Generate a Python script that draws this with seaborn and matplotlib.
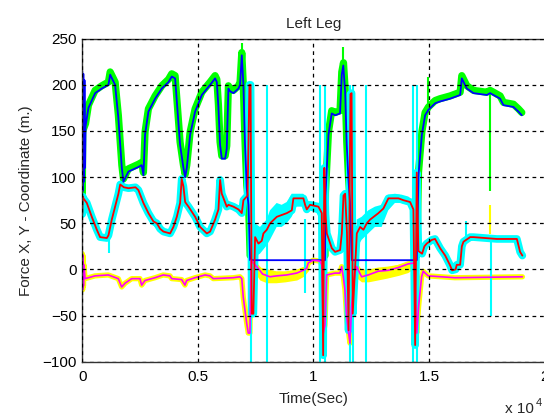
import numpy as np
import matplotlib
matplotlib.use("Agg")
import matplotlib.pyplot as plt
import seaborn as sns

# --- data (time in samples, values in m.) ---
# filtered force (blue)
blue_x = [0, 25, 45, 70, 95, 120, 140, 265, 555, 845, 1130, 1205, 1420, 1560, 1710, 1780,
          1995, 2430, 2570, 2645, 2715, 2860, 3150, 3440, 3730, 3870, 4015, 4090, 4230, 4375,
          4450, 4520, 4665, 4880, 5170, 5530, 5745, 5820, 5890, 5960, 6035, 6180, 6250, 6320,
          6395, 6540, 6755, 6825, 6900, 6970, 7040, 7115, 7190, 7260, 10500, 10520, 10650,
          10790, 10935, 11150, 11225, 11290, 11370, 11440, 11510, 11580, 11660, 14470, 14545,
          14690, 14830, 14975, 15265, 15480, 15913, 16346, 16418, 16635, 16923, 17500, 17644,
          18076, 18219, 18652, 18867, 19014]
blue_y = [215, 85, 212, 95, 205, 110, 155, 175, 191, 196, 200, 211, 200, 164, 110, 95,
          106, 111, 113, 102, 146, 171, 185, 196, 203, 209, 207, 182, 135, 110,
          100, 110, 146, 171, 189, 200, 207, 203, 175, 135, 120, 120, 131, 196,
          193, 191, 196, 200, 232, 200, 135, 88, 70, 10, 10, 80, 146,
          169, 167, 169, 211, 221, 193, 135, 99, 73, 10, 10, 102,
          146, 167, 173, 180, 182, 185, 189, 207, 196, 191, 189, 191,
          185, 178, 176, 171, 167]

# raw force (green), gaps where the sensor is off
green_x = [0, 20, 140, 265, 555, 845, 1130, 1205, 1420, 1560, 1710, 1780, 1995, 2430, 2570,
           2645, 2715, 2860, 3150, 3440, 3730, 3870, 4015, 4090, 4230, 4375, 4450, 4520, 4665,
           4880, 5170, 5530, 5745, 5820, 5890, 5960, 6035, 6180, 6250, 6320, 6395, 6540, 6755,
           6825, 6900, 6960, 7040, 7115, 7190, 7260, 7261, 10499, 10500, 10520, 10650,
           10790, 10935, 11150, 11225, 11300, 11370, 11440, 11510, 11580, 11650, 11651, 14469,
           14470, 14545, 14690, 14830, 14975, 15265, 15480, 15913, 16346, 16418, 16635,
           16923, 17500, 17644, 18076, 18219, 18652, 18867, 19014]
green_y = [80, 150, 158, 178, 194, 199, 203, 214, 203, 167, 113, 98, 109, 114, 116,
           105, 149, 174, 188, 199, 206, 212, 210, 185, 138, 113, 103, 113, 149,
           174, 192, 203, 210, 206, 178, 138, 123, 123, 134, 199, 196, 194, 199,
           203, 235, 203, 138, 91, 73, 15, np.nan, np.nan, 15, 83, 149,
           172, 170, 172, 214, 224, 196, 138, 102, 76, 15, np.nan, np.nan,
           15, 105, 149, 170, 176, 183, 185, 188, 192, 210, 199,
           194, 192, 194, 188, 181, 179, 174, 170]
green_spike_x = [6930, 11300, 14960, 17650]
green_spike_lo = [200, 215, 170, 85]
green_spike_hi = [245, 241, 208, 190]
yellow_spike_x = [17650]
yellow_spike_lo = [38]
yellow_spike_hi = [70]

# filtered Y coordinate (red)
red_x = [0, 20, 48, 195, 410, 628, 770, 1060, 1133, 1276, 1419, 1562, 1640, 1800, 2000, 2300,
         2427, 2644, 2860, 3076, 3222, 3366, 3509, 3799, 3941, 4089, 4232, 4300, 4375, 4449,
         4594, 4882, 5097, 5386, 5529, 5745, 5890, 5962, 6034, 6250, 6322, 6539, 6755, 6899,
         6971, 7150, 7230, 7280, 7330, 7400, 7476, 7620, 7764, 7836, 7982, 8125, 8415, 8848,
         9063, 9133, 9565, 9639, 9710, 9855, 10215, 10360, 10420, 10470, 10520, 10578, 10794,
         10937, 11153, 11227, 11300, 11370, 11450, 11520, 11600, 11650, 11700, 11876, 12019,
         12163, 12308, 12451, 12811, 13026, 13243, 13676, 13893, 14182, 14324, 14400, 14470,
         14540, 14700, 14800, 14900, 15120, 15260, 15480, 15700, 15900, 16000, 16150, 16200,
         16346, 16420, 16490, 16780, 16923, 17930, 18800, 18940, 19037]
red_y = [60, 79, 77, 72, 57, 43, 35, 34, 37, 54, 68, 82, 92, 89, 88, 89,
         86, 72, 61, 52, 50, 44, 41, 39, 46, 57, 72, 98, 90, 73,
         68, 57, 46, 39, 41, 54, 65, 97, 82, 68, 70, 68, 65, 61,
         75, 80, 200, 200, -48, -48, 35, 28, 31, 39, 43, 50, 57, 61,
         64, 77, 77, 70, 65, 70, 68, 61, -93, 110, 60, 39, 23,
         19, 21, 39, 80, 82, 40, -66, 190, 191, -48, 39, 46,
         43, 50, 54, 61, 66, 77, 77, 75, 73, 65, -82, 105,
         20, 17, 25, 28, 32, 33, 23, 15, 5, -1, 0, 5,
         5, 25, 30, 35, 35, 33, 33, 19, 15]

# raw Y coordinate (cyan): noise envelope and dropout spikes
cyan_band_x = [7470, 7686, 7975, 8118, 8408, 8624, 8840, 9057, 9273, 9558, 9848, 10138, 10354,
               np.nan, 11868, 12084, 12370, 12659, 12949, 13235, 13524, 13814, 14100, 14316]
cyan_band_lo = [14, 17, 26, 32, 46, 46, 50, 57, 68, 68, 64, 61, 50,
                np.nan, 23, 32, 39, 46, 46, 64, 72, 72, 70, 64]
cyan_band_hi = [50, 46, 54, 64, 72, 70, 73, 82, 82, 82, 72, 72, 66,
                np.nan, 54, 57, 64, 68, 70, 81, 82, 81, 79, 75]
cyan_spike_x = [1170, 7300, 7990, 9650, 10280, 10500, 11600, 11700, 12260, 14290, 14470, 16620, 17660]
cyan_spike_lo = [18, -100, -100, -26, -100, -100, -100, -100, -100, -100, -100, 35, -50]
cyan_spike_hi = [35, 200, 200, 55, 200, 200, 200, 200, 200, 200, 200, 52, 33]

# filtered X coordinate (magenta)
mag_x = [0, 15, 30, 50, 70, 121, 549, 1124, 1557, 1704, 1847, 2137, 2494, 2569, 2712, 3144,
         3503, 3793, 3866, 4299, 4442, 4515, 4874, 5307, 5523, 5666, 6531, 6821, 6900, 6963,
         7110, 7180, 7252, 7300, 7469, 7617, 7800, 8118, 8408, 8840, 9273, 9558, 9705, 9776,
         9991, 10280, 10360, 10427, 10500, 10570, 10929, 11145, 11219, 11290, 11362, 11435,
         11505, 11580, 11650, 11794, 11868, 12084, 12370, 12802, 13235, 13667, 14100, 14359,
         14400, 14470, 14550, 14679, 14748, 14965, 16119, 19040]
mag_y = [17, -22, 15, -18, 5, -10, -7, -6, -10, -19, -15, -10, -10, -17, -12, -9,
         -6, -7, -10, -11, -17, -12, -9, -6, -7, -10, -9, -8, -10, -30,
         -58, -69, -69, 10, 5, 1, -5, -8, -7, -6, -4, -1, 1, 7,
         10, 9, 5, -69, -60, -6, -4, -4, 3, -8, -22, -51,
         -66, -80, -40, -4, 3, -8, -6, -2, -1, 2, 6, 7,
         -20, -69, -40, -8, -2, -7, -9, -8]

# raw X coordinate (yellow) noise envelope
yel_band_x = [7500, 7700, 8000, 8400, 8800, 9300, 9600, 9800,
              np.nan, 11900, 12100, 12400, 12800, 13200, 13700, 14100, 14350]
yel_band_lo = [-5, -12, -15, -15, -14, -12, -8, -2,
               np.nan, -10, -14, -14, -12, -10, -7, -4, 0]
yel_band_hi = [8, 2, 0, -2, -2, 0, 3, 8,
               np.nan, 5, 0, 0, 2, 3, 5, 8, 9]

x_ticks = [0, 5000, 10000, 15000, 20000]
x_tick_labels = ["0", "0.5", "1", "1.5", "2"]
y_ticks = [-100, -50, 0, 50, 100, 150, 200, 250]

sns.set_style("white")
plt.rcParams["font.family"] = ["Liberation Sans", "DejaVu Sans"]

fig = plt.figure(figsize=(5.44, 4.18), dpi=100)
ax = fig.add_axes([82.3 / 544, 1 - 361.7 / 418, 462.3 / 544, 323 / 418])

# raw signals first (thick, noisy look), filtered on top
ax.plot(green_x, green_y, color=(0, 1, 0), lw=5.2, solid_joinstyle="round")
ax.vlines(green_spike_x, green_spike_lo, green_spike_hi, color=(0, 1, 0), lw=1.5)
ax.vlines(yellow_spike_x, yellow_spike_lo, yellow_spike_hi, color=(1, 1, 0), lw=1.5)

ax.fill_between(yel_band_x, yel_band_lo, yel_band_hi, color=(1, 1, 0), lw=0)
sns.lineplot(x=mag_x, y=mag_y, ax=ax, color=(1, 1, 0), lw=3.8, sort=False, estimator=None)

ax.fill_between(cyan_band_x, cyan_band_lo, cyan_band_hi, color=(0, 1, 1), lw=0)
sns.lineplot(x=red_x, y=red_y, ax=ax, color=(0, 1, 1), lw=5.5, sort=False, estimator=None)
ax.vlines(cyan_spike_x, cyan_spike_lo, cyan_spike_hi, color=(0, 1, 1), lw=1.5)

sns.lineplot(x=blue_x, y=blue_y, ax=ax, color=(0, 0, 1), lw=1.3, sort=False, estimator=None)
sns.lineplot(x=mag_x, y=mag_y, ax=ax, color=(1, 0, 1), lw=1.2, sort=False, estimator=None)
sns.lineplot(x=red_x, y=red_y, ax=ax, color=(1, 0, 0), lw=1.3, sort=False, estimator=None)

ax.set_xlim(0, 20000)
ax.set_ylim(-100, 250)
ax.set_xticks(x_ticks)
ax.set_xticklabels(x_tick_labels)
ax.set_yticks(y_ticks)
ax.tick_params(direction="in", length=4, width=0.8, labelsize=11, pad=6, colors="black")
ax.tick_params(axis="y", pad=4)

ax.set_axisbelow(False)
ax.grid(True, color="black", linestyle=(0, (3, 3)), linewidth=0.9)
for s in ax.spines.values():
    s.set_color("#333333")
    s.set_linewidth(1.0)

ax.set_title("Left Leg", fontsize=11, pad=8)
ax.set_xlabel("Time(Sec)", fontsize=11, labelpad=6)
ax.set_ylabel("Force X, Y - Coordinate (m.)", fontsize=11, labelpad=7)

fig.text(505 / 544, 2 / 418, "x 10", fontsize=11, va="bottom", ha="left")
fig.text(536 / 544, 10 / 418, "4", fontsize=8, va="bottom", ha="left")

fig.savefig("out.png", dpi=100, facecolor="white")
